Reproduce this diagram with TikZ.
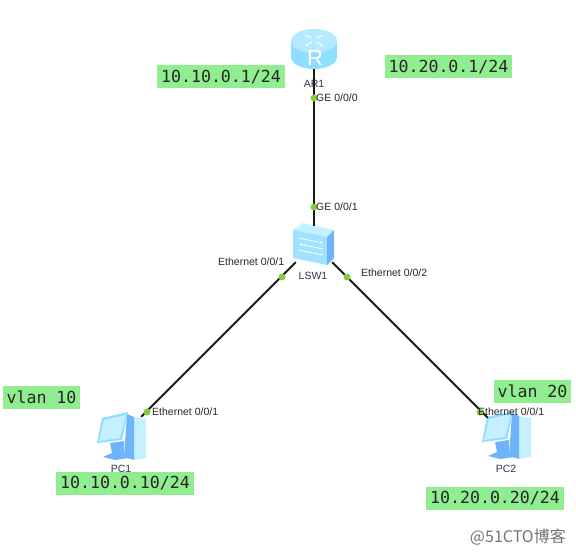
\documentclass[tikz,border=0pt]{standalone}
\usepackage{fontspec}
\setmainfont{Liberation Sans}
\newfontfamily\monofnt{DejaVu Sans Mono}
\newfontfamily\cjkfnt{Noto Sans CJK SC}
\usepackage{xcolor}
\usetikzlibrary{arrows.meta}
\definecolor{notegreen}{HTML}{90EE90}
\definecolor{portgreen}{HTML}{7FCF3A}
\definecolor{iconpale}{HTML}{C4F0FF}
\definecolor{iconmid}{HTML}{8FDDFF}
\definecolor{icondark}{HTML}{6FB4FA}
\definecolor{labelgrey}{HTML}{33334D}
\tikzset{
  routericon/.pic={
    \fill[iconmid] (-23,-8) -- (-23,8) arc[start angle=180,end angle=0,x radius=23,y radius=12] -- (23,-8) -- cycle;
    \fill[iconpale!70!iconmid] (0,-8) ellipse[x radius=23,y radius=12];
    \draw[white,line width=1pt,-{Stealth[length=3pt]}] (-9,-14) -- (-2,-11);
    \draw[white,line width=1pt,-{Stealth[length=3pt]}] (9,-14) -- (2,-11);
    \draw[white,line width=1pt,-{Stealth[length=3pt]}] (-2,-7) -- (-9,-3);
    \draw[white,line width=1pt,-{Stealth[length=3pt]}] (2,-7) -- (9,-3);
    \node[white,font=\fontsize{22}{22}\selectfont,inner sep=0pt] at (1,9) {R};
  },
  switchicon/.pic={
    \fill[iconpale] (-21,-14) -- (-11,-21) -- (20,-14) -- (13,-7) -- cycle;
    \fill[iconmid!70!iconpale] (-21,-14) -- (13,-7) -- (13,21) -- (-21,14) -- cycle;
    \fill[icondark] (13,-7) -- (20,-14) -- (20,14) -- (13,21) -- cycle;
    \draw[white,line width=.8pt,-{Stealth[length=3pt]}] (-15,-6) -- (9,-1);
    \draw[white,line width=.8pt,-{Stealth[length=3pt]}] (9,5) -- (-15,0);
    \draw[white,line width=.8pt,-{Stealth[length=3pt]}] (-15,6) -- (9,11);
  },
  pcicon/.pic={
    \fill[iconpale] (13,-20) -- (25,-18) -- (25,21) -- (13,23) -- cycle;
    \fill[icondark] (6,-23) -- (13,-20) -- (13,23) -- (3,20) -- cycle;
    \fill[icondark] (-11,6) -- (3,4) -- (3,16) -- (8,21) -- (-6,23) -- (-18,20) -- (-9,16) -- cycle;
    \fill[iconmid] (-19,-19) -- (7,-25) -- (1,3) -- (-24,6) -- cycle;
    \fill[iconpale] (-17,-17) -- (5,-22) -- (-1,1) -- (-22,4) -- cycle;
  }
}
\begin{document}
\begin{tikzpicture}[
  x=1pt,y=-1pt,
  dev/.style={inner sep=0pt,minimum width=#1},
  devlab/.style={font=\fontsize{10.5}{12}\selectfont,text=labelgrey,inner sep=0pt},
  portlab/.style={font=\fontsize{10.5}{12}\selectfont,text=black!85,inner sep=0pt,anchor=west},
  port/.style={circle,fill=portgreen,inner sep=0pt,minimum size=7pt},
  note/.style={fill=notegreen,font=\monofnt\fontsize{16.6}{18}\selectfont,text=black!85,inner sep=0pt,minimum height=23pt},
  line/.style={-,line width=2pt,black!90}
]
\useasboundingbox (0,0) rectangle (576,556);
\node[dev=46pt,minimum height=40pt] (ar1) at (314,49) {};
\node[dev=40pt,minimum height=36pt] (lsw1) at (314,244) {};
\node[dev=40pt,minimum height=40pt] (pc1) at (121,437) {};
\node[dev=36pt,minimum height=36pt] (pc2) at (506,436) {};

\pic at (ar1) {routericon};
\pic at (lsw1) {switchicon};
\pic at (pc1) {pcicon};
\pic at (pc2) {pcicon};

\draw[line] (ar1) -- (lsw1);
\draw[line] (lsw1) -- (pc1);
\draw[line] (lsw1) -- (pc2);

\node[port] (p1) at (314,98) {};
\node[port] (p2) at (314,207) {};
\node[port] (p3) at (282,277) {};
\node[port] (p4) at (347,277) {};
\node[port] (p5) at (147,412) {};
\node[port] (p6) at (480,412) {};

\node[devlab] (ar1lab) at (314,84) {AR1};
\node[devlab] (lsw1lab) at (313,276) {LSW1};
\node[devlab] (pc1lab) at (121,469) {PC1};
\node[devlab] (pc2lab) at (506,469) {PC2};

\node[portlab] (g000) at (316,98) {GE 0/0/0};
\node[portlab] (g001) at (316,207) {GE 0/0/1};
\node[portlab] (e1) at (218,262) {Ethernet 0/0/1};
\node[portlab] (e2) at (361,273) {Ethernet 0/0/2};
\node[portlab] (e3) at (152,412) {Ethernet 0/0/1};
\node[portlab] (e4) at (478,412) {Ethernet 0/0/1};

\node[note,minimum width=128pt] (n1) at (221,77) {10.10.0.1/24};
\node[note,minimum width=127pt] (n2) at (448.5,67) {10.20.0.1/24};
\node[note,minimum width=77pt] (n3) at (41.5,397.5) {vlan 10};
\node[note,minimum width=77pt] (n4) at (532.5,391.5) {vlan 20};
\node[note,minimum width=138pt] (n5) at (125,483.5) {10.10.0.10/24};
\node[note,minimum width=138pt] (n6) at (495,498.5) {10.20.0.20/24};

\node[font=\cjkfnt\fontsize{16}{18}\selectfont,text=black!55,inner sep=0pt,anchor=east] (mark) at (566,537) {@51CTO博客};
\end{tikzpicture}
\end{document}
